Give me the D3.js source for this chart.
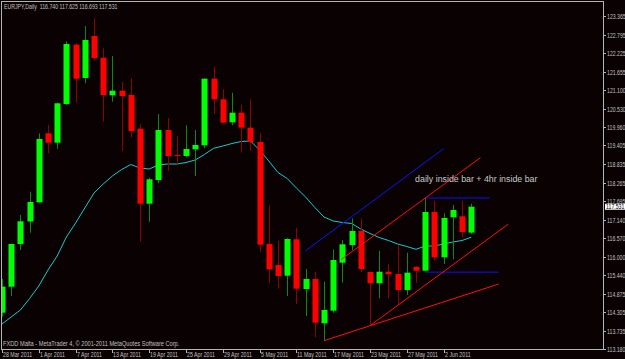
<!DOCTYPE html>
<html>
<head>
<meta charset="utf-8">
<script src="https://cdn.jsdelivr.net/npm/d3@7/dist/d3.min.js"></script>
<style>
  body { margin: 0; background: #0a0202; }
  svg { display: block; }
</style>
</head>
<body>
<script>
// Set up size
var width = 625;
var height = 359;

// EURJPY daily bars, 28 Mar 2011 onwards
var opens = [114.290, 115.086, 116.392, 117.080, 117.667, 119.777, 119.490, 120.674, 122.487, 121.469,
             122.753, 122.090, 120.940, 121.080, 120.949, 119.918, 117.624, 118.349, 119.878, 119.110,
             119.083, 119.288, 119.411, 121.447, 120.817, 120.114, 120.407, 119.949, 119.511, 116.392,
             115.749, 115.422, 116.535, 115.015, 115.321, 113.966, 114.352, 115.820, 116.361, 116.789,
             115.535, 115.190, 115.544, 115.474, 114.985, 115.688, 115.575, 117.370, 115.985, 117.208,
             117.239, 116.740];
var highs = [115.321, 116.400, 117.279, 117.991, 119.777, 120.031, 120.713, 122.591, 122.530, 123.059,
             123.295, 122.377, 122.142, 121.346, 121.460, 120.062, 118.419, 120.368, 120.245, 119.695,
             120.022, 119.878, 121.460, 121.814, 121.123, 121.019, 120.652, 120.817, 119.777, 117.575,
             116.493, 116.566, 116.881, 115.627, 115.544, 115.239, 116.229, 116.514, 117.178, 117.166,
             115.550, 116.187, 115.780, 116.361, 116.126, 115.719, 117.799, 117.707, 117.331, 117.584,
             117.707, 117.625];
var lows = [114.168, 114.801, 116.208, 116.737, 117.650, 119.166, 119.306, 120.643, 120.713, 121.307,
            121.998, 120.132, 120.744, 119.236, 119.655, 116.462, 117.074, 118.248, 118.634, 118.838,
            119.043, 118.471, 119.319, 120.368, 120.083, 120.022, 119.184, 119.245, 116.138, 115.208,
            115.024, 114.801, 114.557, 114.189, 113.538, 113.434, 114.290, 115.208, 116.208, 115.526,
            113.923, 114.731, 114.731, 114.526, 114.832, 115.208, 115.560, 115.887, 115.780, 115.924,
            116.597, 116.693];
var closes = [115.086, 116.392, 117.086, 117.676, 119.603, 119.490, 120.695, 122.509, 121.447, 122.631,
              122.080, 120.949, 121.080, 120.918, 119.848, 117.624, 118.370, 119.878, 119.083, 119.100,
              119.297, 119.420, 121.447, 120.817, 120.102, 120.407, 119.949, 119.511, 116.370, 115.618,
              115.413, 116.545, 115.024, 115.321, 113.985, 114.373, 115.902, 116.382, 116.789, 115.627,
              115.190, 115.544, 115.465, 114.985, 115.514, 115.575, 117.370, 115.985, 117.187, 117.432,
              116.759, 117.531];

// moving average (cyan line)
var maValues = [113.945, 114.159, 114.373, 114.725, 115.107, 115.596, 116.025, 116.606, 117.034, 117.493,
                117.951, 118.227, 118.471, 118.670, 118.823, 118.716, 118.685, 118.808, 118.838, 118.838,
                118.884, 118.961, 119.129, 119.319, 119.389, 119.465, 119.527, 119.542, 119.267, 118.930,
                118.578, 118.395, 118.104, 117.829, 117.508, 117.217, 117.095, 117.049, 117.019, 116.850,
                116.713, 116.591, 116.499, 116.392, 116.315, 116.229, 116.330, 116.330, 116.392, 116.453,
                116.499, 116.597];

// time axis labels (bar index, text)
var dateBars = [0, 4, 8, 12, 16, 20, 24, 28, 32, 36, 40, 44, 48];
var dateLabels = ["28 Mar 2011", "1 Apr 2011", "7 Apr 2011", "13 Apr 2011", "19 Apr 2011", "25 Apr 2011",
                  "29 Apr 2011", "5 May 2011", "11 May 2011", "17 May 2011", "23 May 2011", "27 May 2011",
                  "2 Jun 2011"];

// price axis labels
var priceTicks = ["123.365", "122.795", "122.225", "121.655", "121.100", "120.530", "119.960", "119.405",
                  "118.835", "118.265", "117.695", "117.140", "116.570", "116.000", "115.440", "114.875",
                  "114.305", "113.735", "113.180"];
var lastPrice = 117.531;

// drawn objects: [bar1, price1, bar2, price2]
var blueLines = [[33.0, 116.187, 48.0, 119.306],
                 [46.0, 117.800, 53.0, 117.800],
                 [46.0, 115.530, 54.0, 115.530]];
var redLines = [[36.9, 115.924, 52.0, 119.031],
                [35.0, 113.434, 54.0, 115.168],
                [40.1, 113.914, 55.0, 116.994]];
var note = {bar: 44.9, price: 118.288, text: "daily inside bar + 4hr inside bar"};

// chart frame (plotTop, not "top": window.top is read-only)
var plotLeft = 2, plotTop = 2, plotRight = 603, plotBottom = 349;

var x = d3.scaleLinear().domain([0, 51]).range([2, 471.2]);
var y = d3.scaleLinear().domain([113.180, 123.365]).range([349, 16]);

var svg = d3.select("body").append("svg")
  .attr("width", width)
  .attr("height", height)
  .style("font-family", "'Liberation Sans', Arial, sans-serif");

svg.append("rect").attr("width", width).attr("height", height).attr("fill", "#0a0202");

svg.append("defs").append("clipPath").attr("id", "plot")
  .append("rect").attr("x", plotLeft).attr("y", plotTop)
  .attr("width", plotRight - plotLeft).attr("height", plotBottom - plotTop);

var plot = svg.append("g").attr("clip-path", "url(#plot)");

// small MT4-style label, squeezed horizontally
function label(parent, tx, ty, str, size, sx, color) {
  return parent.append("text")
    .attr("transform", "translate(" + tx + "," + ty + ") scale(" + sx + ",1)")
    .attr("fill", color || "#c0c0c0")
    .attr("font-size", size)
    .attr("xml:space", "preserve")
    .text(str);
}

var bars = d3.range(opens.length).map(function (i) {
  return {i: i, o: opens[i], h: highs[i], l: lows[i], c: closes[i]};
});

// moving average
plot.append("path")
  .datum(maValues)
  .attr("fill", "none")
  .attr("stroke", "#17c9d2")
  .attr("stroke-width", 1)
  .attr("d", d3.line().x(function (d, i) { return x(i); }).y(function (d) { return y(d); }));

// wicks
plot.selectAll("line.wick").data(bars).enter().append("line")
  .attr("class", "wick")
  .attr("x1", function (d) { return Math.round(x(d.i)) + 0.5; })
  .attr("x2", function (d) { return Math.round(x(d.i)) + 0.5; })
  .attr("y1", function (d) { return y(d.h); })
  .attr("y2", function (d) { return y(d.l); })
  .attr("stroke", function (d) { return d.c >= d.o ? "#0f8a0f" : "#8a0404"; })
  .attr("stroke-width", 1);

// bodies
plot.selectAll("rect.body").data(bars).enter().append("rect")
  .attr("class", "body")
  .attr("x", function (d) { return Math.round(x(d.i)) - 2.5; })
  .attr("width", 6)
  .attr("y", function (d) { return y(Math.max(d.o, d.c)); })
  .attr("height", function (d) { return Math.max(1, Math.abs(y(d.o) - y(d.c))); })
  .attr("fill", function (d) { return d.c >= d.o ? "#00ff00" : "#ff0000"; });

// trend lines
plot.selectAll("line.blue").data(blueLines).enter().append("line")
  .attr("x1", function (d) { return x(d[0]); }).attr("y1", function (d) { return y(d[1]); })
  .attr("x2", function (d) { return x(d[2]); }).attr("y2", function (d) { return y(d[3]); })
  .attr("stroke", "#1010ff").attr("stroke-width", 1);
plot.selectAll("line.red").data(redLines).enter().append("line")
  .attr("x1", function (d) { return x(d[0]); }).attr("y1", function (d) { return y(d[1]); })
  .attr("x2", function (d) { return x(d[2]); }).attr("y2", function (d) { return y(d[3]); })
  .attr("stroke", "#ff1010").attr("stroke-width", 1);

label(plot, x(note.bar), y(note.price), note.text, 9.5, 0.93, "#c8c8c8");

// frame
svg.append("rect")
  .attr("x", plotLeft - 0.5).attr("y", plotTop - 0.5)
  .attr("width", plotRight - plotLeft + 1).attr("height", plotBottom - plotTop + 1)
  .attr("fill", "none").attr("stroke", "#b4b4b4").attr("stroke-width", 1);

// price axis
var yAxis = svg.append("g");
priceTicks.forEach(function (d) {
  var py = Math.round(y(+d));
  yAxis.append("line").attr("x1", plotRight).attr("x2", plotRight + 3)
    .attr("y1", py + 0.5).attr("y2", py + 0.5).attr("stroke", "#b4b4b4");
  label(yAxis, plotRight + 4, py + 2.5, d, 6.5, 0.8);
});

// current price marker
var ly = y(lastPrice);
svg.append("rect").attr("x", plotRight + 2).attr("y", ly - 3).attr("width", 20).attr("height", 6).attr("fill", "#ffffff");
label(svg, plotRight + 3, ly + 2.3, d3.format(".3f")(lastPrice), 6.5, 0.8, "#000000");

// time axis
var xAxis = svg.append("g");
dateBars.forEach(function (b, i) {
  var px = Math.round(x(b));
  xAxis.append("line").attr("x1", px + 0.5).attr("x2", px + 0.5)
    .attr("y1", plotBottom).attr("y2", plotBottom + 4).attr("stroke", "#b4b4b4");
  label(xAxis, px + 1, plotBottom + 7.5, dateLabels[i], 6.5, 0.81);
});

// header and footer
label(svg, 4, 8.5, "EURJPY,Daily  " + [opens[51], highs[51], lows[51], closes[51]].map(d3.format(".3f")).join(" "), 6.5, 0.8);
label(svg, 3, plotBottom - 3, "FXDD Malta - MetaTrader 4, \u00a9 2001-2011 MetaQuotes Software Corp.", 6.5, 0.87);
</script>
</body>
</html>
